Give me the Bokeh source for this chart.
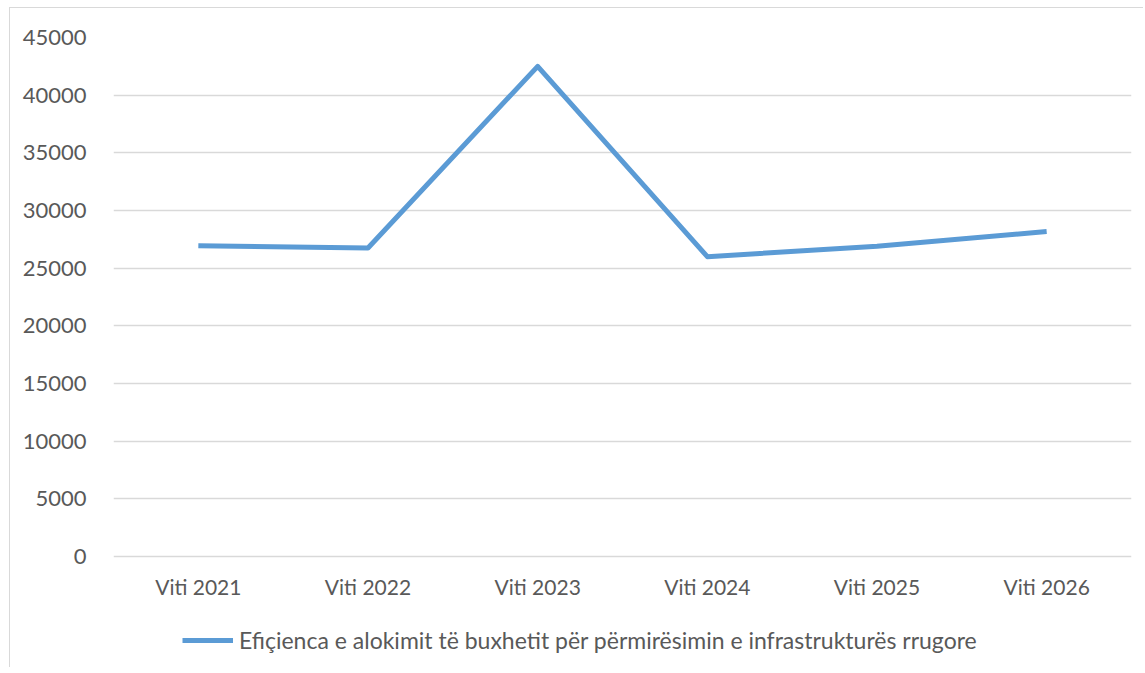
from bokeh.plotting import figure
from bokeh.models import Range1d, FactorRange, Legend, LegendItem, FixedTicker, NumeralTickFormatter
from bokeh.embed import file_html
from bokeh.resources import INLINE

categories = ["Viti 2021", "Viti 2022", "Viti 2023", "Viti 2024", "Viti 2025", "Viti 2026"]
values = [26950, 26750, 42500, 26000, 26900, 28170]
y_ticks = [0, 5000, 10000, 15000, 20000, 25000, 30000, 35000, 40000, 45000]
series_name = "Efiçienca e alokimit të buxhetit për përmirësimin e infrastrukturës rrugore"

FONT = "Lato"
TXT = "#595959"
GRID = "#d9d9d9"
BLUE = "#5b9bd5"

W, H = 1134, 660
TOP, LEFT, RIGHT = 29, 103, 13
AXIS_PX = 519              # pixels from 45000 down to 0
frame_h = H - TOP
y_max = y_ticks[-1]
y_min = -(frame_h - AXIS_PX) * y_max / AXIS_PX

p = figure(width=W, height=H, x_range=FactorRange(*categories), y_range=Range1d(y_min, y_max),
           output_backend="svg", toolbar_location=None,
           min_border_left=LEFT, min_border_top=TOP, min_border_right=RIGHT, min_border_bottom=0)
p.styles = {"border-left": "1px solid #d9d9d9", "border-top": "1px solid #d9d9d9",
            "margin-left": "9px", "margin-top": "7px"}
p.x_range.range_padding = 0
p.outline_line_color = None
p.background_fill_color = "white"
p.border_fill_color = "white"

r = p.line(categories, values, line_color=BLUE, line_width=5, line_join="round")

# category labels under the zero line
p.text(x=categories, y=[0] * len(categories), text=categories, y_offset=30,
       text_align="center", text_baseline="middle", text_font_size="21px",
       text_color=TXT, text_font={"value": FONT})

p.xaxis.visible = False
p.yaxis.ticker = FixedTicker(ticks=y_ticks)
p.yaxis.formatter = NumeralTickFormatter(format="0")
p.yaxis.axis_line_color = None
p.yaxis.major_tick_line_color = None
p.yaxis.minor_tick_line_color = None
p.yaxis.major_label_text_font = FONT
p.yaxis.major_label_text_font_size = "22px"
p.yaxis.major_label_text_color = TXT
p.yaxis.major_label_standoff = 21

p.xgrid.grid_line_color = None
p.ygrid.grid_line_color = GRID
p.ygrid.grid_line_width = 1.5

legend = Legend(items=[LegendItem(label=series_name, renderers=[r])],
                orientation="horizontal", location=(69, 14),
                label_text_font=FONT, label_text_font_size="23px", label_text_color=TXT,
                glyph_width=51, label_standoff=6, padding=5, margin=0,
                border_line_color=None, background_fill_alpha=0)
p.add_layout(legend, "center")

open("out.html", "w").write(file_html(p, INLINE))
